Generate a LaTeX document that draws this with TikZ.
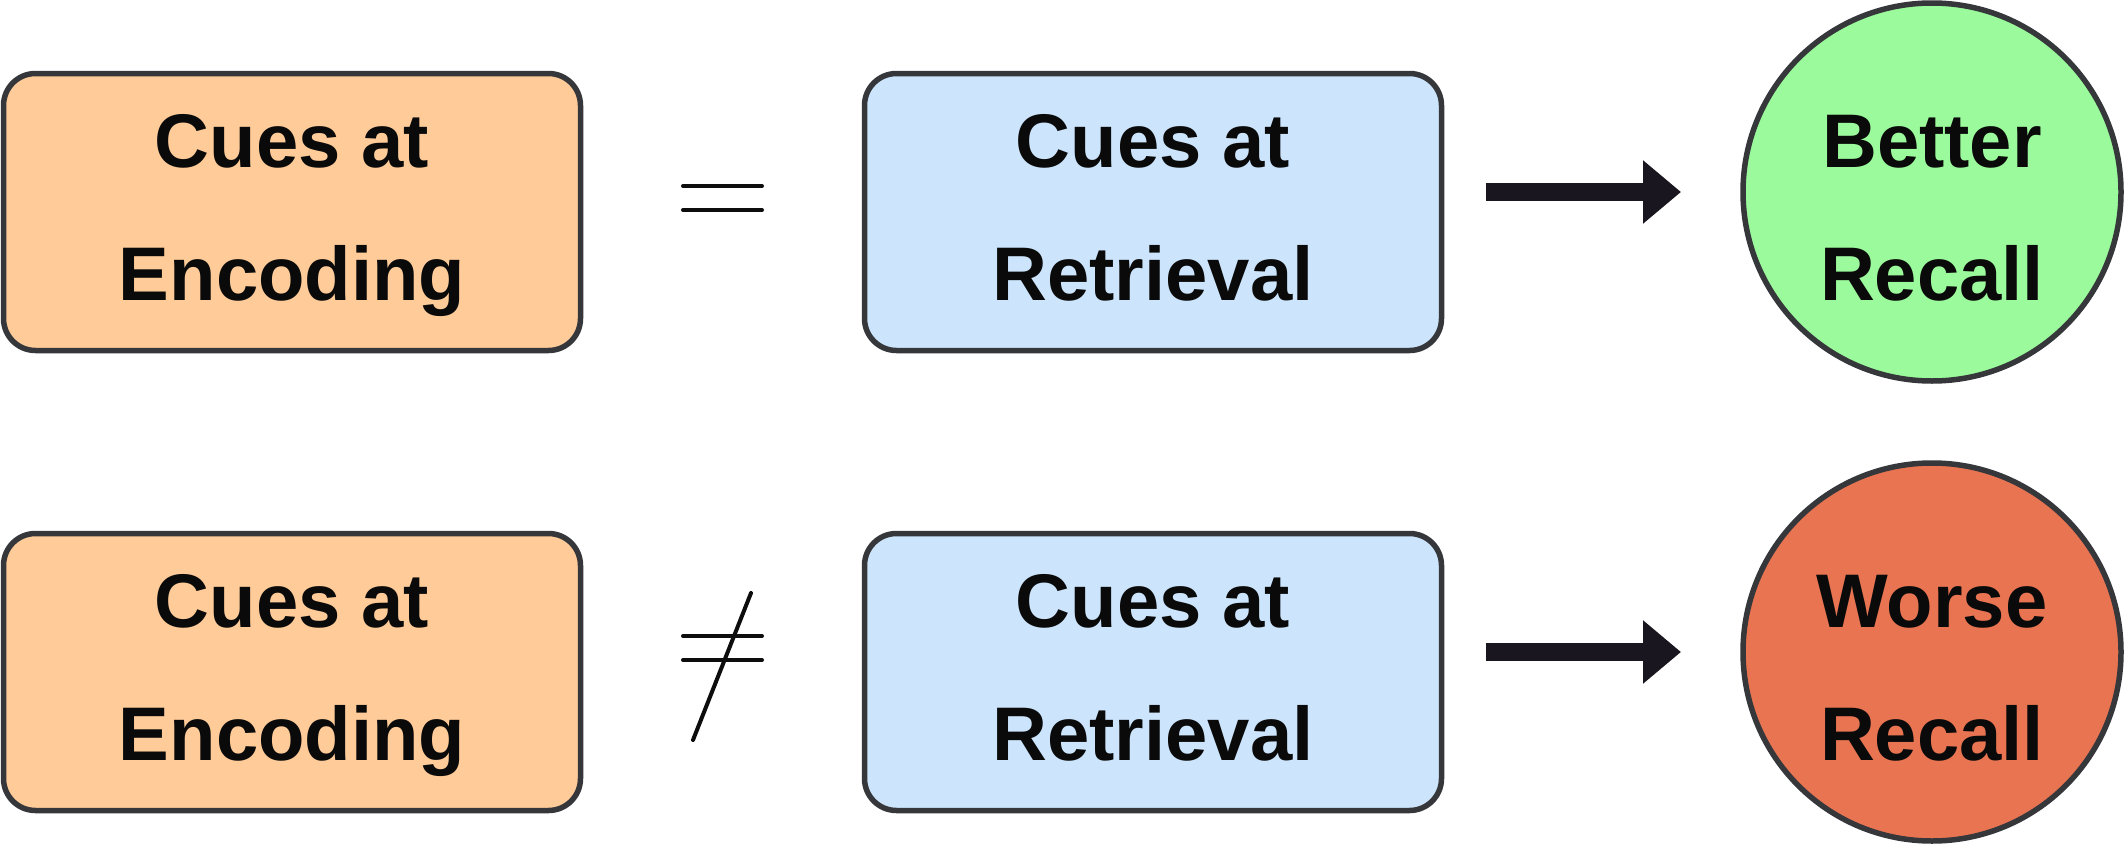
\documentclass[tikz,border=0pt]{standalone}
\usepackage{fontspec}
\setmainfont{Liberation Sans}
\usetikzlibrary{arrows.meta}
\definecolor{strokec}{HTML}{35373B}
\definecolor{orangef}{HTML}{FECB99}
\definecolor{bluef}{HTML}{CCE5FC}
\definecolor{greenf}{HTML}{9BFA9B}
\definecolor{redf}{HTML}{E87452}
\definecolor{textc}{HTML}{0A0A0A}
\definecolor{arrowc}{HTML}{19161F}
\tikzset{
  lbl/.style={font=\bfseries\fontsize{76}{133}\selectfont, text=textc, align=center, inner sep=0pt, outer sep=0pt},
  cuebox/.style={lbl, draw=strokec, line width=5.5pt, rounded corners=32pt, minimum width=577pt, minimum height=277pt, text height=176pt, text depth=0pt},
  encbox/.style={cuebox, fill=orangef},
  retbox/.style={cuebox, fill=bluef},
  result/.style={lbl, circle, draw=strokec, line width=5.5pt, minimum size=378pt, text height=216pt, text depth=0pt},
  sign/.style={line width=4pt, line cap=round, draw=black!95},
  fatarrow/.style={draw=arrowc, line width=18pt, -{Triangle[length=38pt,width=61pt]}, shorten <=44pt, shorten >=62pt}
}
\begin{document}
\begin{tikzpicture}[x=1pt,y=-1pt]
\useasboundingbox (0,0) rectangle (2128,846);
% row 1
\node[encbox] (e1) at (292,212) {Cues at\\Encoding};
\node[retbox] (r1) at (1153,212) {Cues at\\Retrieval};
\node[result, fill=greenf] (c1) at (1932,192) {Better\\Recall};
\coordinate (eqa1) at (683,186);
\coordinate (eqb1) at (762,186);
\coordinate (eqc1) at (683,210);
\coordinate (eqd1) at (762,210);
\draw[sign] (eqa1) -- (eqb1);
\draw[sign] (eqc1) -- (eqd1);
\draw[fatarrow] (r1.east |- c1.west) -- (c1.west);
% row 2
\node[encbox] (e2) at (292,672) {Cues at\\Encoding};
\node[retbox] (r2) at (1153,672) {Cues at\\Retrieval};
\node[result, fill=redf] (c2) at (1932,652) {Worse\\Recall};
\coordinate (nea) at (683,636);
\coordinate (neb) at (762,636);
\coordinate (nec) at (683,660);
\coordinate (ned) at (762,660);
\coordinate (nes) at (693,740);
\coordinate (net) at (751,593);
\draw[sign] (nea) -- (neb);
\draw[sign] (nec) -- (ned);
\draw[sign] (nes) -- (net);
\draw[fatarrow] (r2.east |- c2.west) -- (c2.west);
\end{tikzpicture}
\end{document}
